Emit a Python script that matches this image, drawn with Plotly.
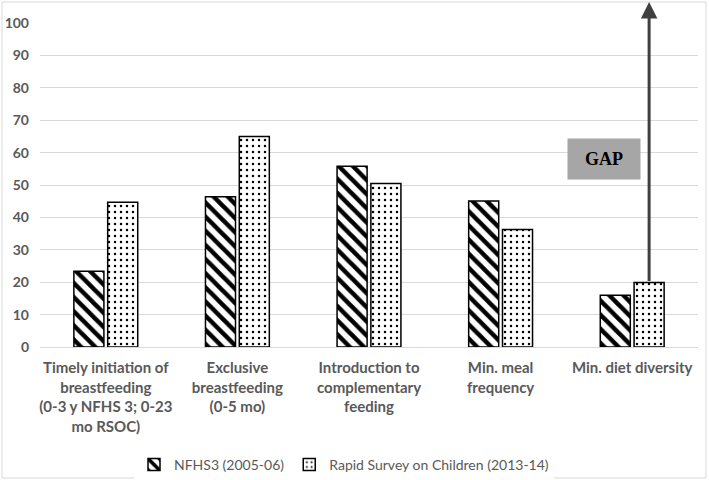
import plotly.graph_objects as go

categories = [
    "Timely initiation of<br>breastfeeding<br>(0-3 y NFHS 3; 0-23<br>mo RSOC)",
    "Exclusive<br>breastfeeding<br>(0-5 mo)",
    "Introduction to<br>complementary<br>feeding",
    "Min. meal<br>frequency",
    "Min. diet diversity",
]
nfhs3 = [23.4, 46.4, 55.8, 45.1, 16.0]
rsoc = [44.7, 65.0, 50.5, 36.3, 19.9]
series_names = ["NFHS3 (2005-06)", "Rapid Survey on Children (2013-14)"]
y_ticks = [0, 10, 20, 30, 40, 50, 60, 70, 80, 90, 100]

W, H = 709, 480
ml, mr, mt, mb = 40, 11, 23, 133
plot_w = W - ml - mr
plot_h = H - mt - mb

def px_x(px):
    return (px - ml) / plot_w

def px_y(py):
    return (H - mb - py) / plot_h

GRAY = "#595959"
FONT = "Lato"

bargap = 0.486
fig = go.Figure()
fig.add_trace(go.Bar(
    x=list(range(len(categories))), y=nfhs3, name=series_names[0],
    marker=dict(color="white", line=dict(color="black", width=1.5),
                pattern=dict(shape="\\", fgcolor="#000000", bgcolor="white",
                             fgopacity=1, size=10, solidity=0.45)),
))
fig.add_trace(go.Bar(
    x=list(range(len(categories))), y=rsoc, name=series_names[1],
    marker=dict(color="white", line=dict(color="black", width=1.5),
                pattern=dict(shape=".", fgcolor="#000000", bgcolor="white",
                             fgopacity=1, size=6, solidity=0.14)),
))

# arrow from top of last RSOC bar
slot = (1 - bargap) / 2
last = len(categories) - 1
arrow_x = last + slot / 2
fig.add_annotation(
    x=arrow_x, y=106.5, ax=arrow_x, ay=rsoc[last],
    xref="x", yref="y", axref="x", ayref="y",
    showarrow=True, arrowhead=2, arrowsize=1.1, arrowwidth=3,
    arrowcolor="#404040", text="",
)
fig.add_annotation(
    x=px_x(604), y=px_y(159), xref="paper", yref="paper",
    text="<b>GAP</b>", showarrow=False,
    font=dict(family="Liberation Serif", size=18, color="black"),
    bgcolor="#a6a6a6", width=70, height=38, xanchor="center", yanchor="middle",
)

fig.add_shape(
    type="rect", xref="paper", yref="paper",
    x0=px_x(2), x1=px_x(706), y0=px_y(478), y1=px_y(2),
    line=dict(color="#d9d9d9", width=1), fillcolor="rgba(0,0,0,0)", layer="below",
)

fig.update_layout(
    width=W, height=H,
    margin=dict(l=ml, r=mr, t=mt, b=mb, autoexpand=False),
    paper_bgcolor="white", plot_bgcolor="white",
    barmode="group", bargap=bargap, bargroupgap=0.112,
    showlegend=True,
    legend=dict(orientation="h", x=px_x(344), xanchor="center",
                y=px_y(465), yanchor="middle",
                font=dict(family=FONT, size=14, color=GRAY),
                itemwidth=30, traceorder="normal"),
    xaxis=dict(
        tickmode="array", tickvals=list(range(len(categories))),
        ticktext=categories, range=[-0.5, len(categories) - 0.5],
        showgrid=False, zeroline=False, showline=False,
        tickfont=dict(family=FONT, size=15, color=GRAY, weight="bold"),
        ticks="", ticklabelstandoff=10, automargin=False,
    ),
    yaxis=dict(
        range=[0, 100], tickmode="array", tickvals=y_ticks,
        showgrid=True, gridcolor="#d9d9d9", gridwidth=1,
        zeroline=True, zerolinecolor="#d9d9d9", zerolinewidth=1,
        showline=False, ticks="",
        tickfont=dict(family=FONT, size=14, color=GRAY, weight="bold"),
        ticklabelstandoff=10, automargin=False,
    ),
)

fig.write_html(
    "out.html",
    config={"displayModeBar": False},
    post_script="document.body.style.margin='0';document.body.style.overflow='hidden';",
)
